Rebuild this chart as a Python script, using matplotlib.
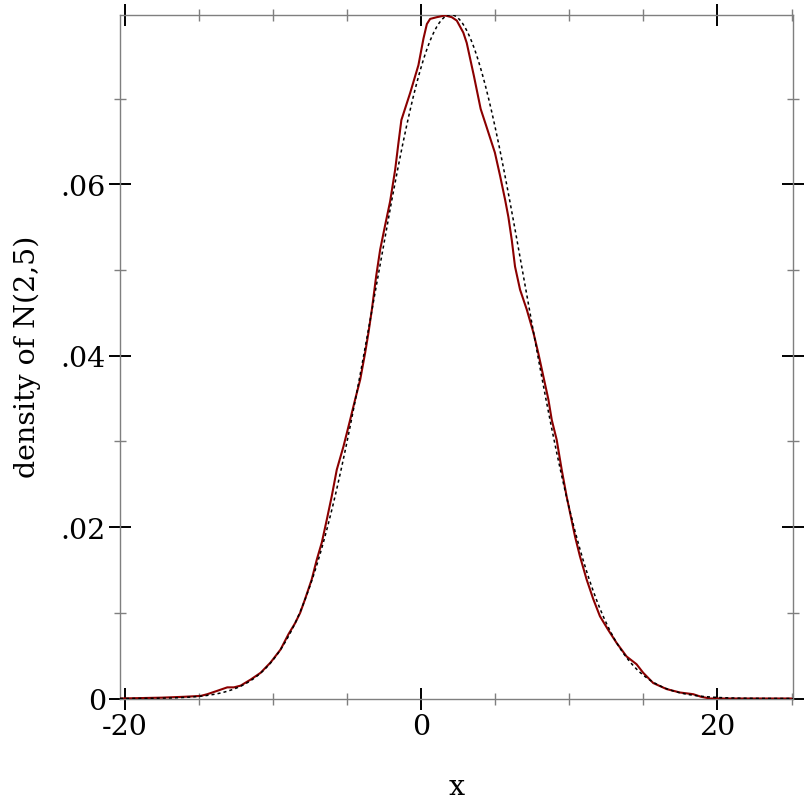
import numpy as np
import matplotlib
matplotlib.use("Agg")
import matplotlib.pyplot as plt
from matplotlib.ticker import FixedLocator, FixedFormatter

# ---- data ----
mu, sigma = 2.0, 5.0  # the reference density N(2,5)

kde_x = [-20.3, -17.5, -16.0, -14.88, -14.43, -13.75, -13.08, -12.63, -12.18,
         -11.51, -10.83, -10.16, -9.49, -8.95, -8.50, -8.16, -7.83, -7.38,
         -7.04, -6.70, -6.36, -6.03, -5.69, -5.24, -4.79, -4.45, -4.11, -3.78,
         -3.55, -3.32, -3.03, -2.76, -2.43, -2.09, -1.75, -1.53, -1.33, -0.73,
         -0.18, 0.16, 0.39, 0.61, 1.06, 1.62, 2.07, 2.41, 2.85, 3.08, 3.57,
         4.02, 4.38, 4.98, 5.33, 5.67, 5.89, 6.12, 6.34, 6.68, 7.13, 7.58,
         7.91, 8.25, 8.59, 8.82, 9.15, 9.49, 9.82, 10.05, 10.39, 10.72, 11.17,
         11.62, 12.07, 12.63, 13.19, 13.87, 14.54, 14.99, 15.67, 16.57, 17.47,
         18.37, 18.9, 19.5, 21.0, 25.0]
kde_y = [0.0000, 0.0001, 0.0002, 0.0003, 0.0005, 0.0009, 0.0013, 0.0013, 0.0015,
         0.0022, 0.0030, 0.0042, 0.0057, 0.0075, 0.0088, 0.0100, 0.0116, 0.0139,
         0.0162, 0.0182, 0.0209, 0.0236, 0.0267, 0.0294, 0.0325, 0.0349, 0.0372, 0.0403,
         0.0427, 0.0454, 0.0493, 0.0524, 0.0552, 0.0580, 0.0617, 0.0648, 0.0675, 0.0707,
         0.0739, 0.0770, 0.0787, 0.0793, 0.0795, 0.0797, 0.0795, 0.0791, 0.0777, 0.0765, 0.0726,
         0.0688, 0.0669, 0.0637, 0.0610, 0.0582, 0.0562, 0.0535, 0.0504, 0.0477, 0.0454, 0.0427,
         0.0403, 0.0376, 0.0349, 0.0325, 0.0302, 0.0267, 0.0236, 0.0217, 0.0189, 0.0166, 0.0139,
         0.0116, 0.0096, 0.0080, 0.0065, 0.0049, 0.0040, 0.0030, 0.0018, 0.0011, 0.0007,
         0.0005, 0.0002, 0.0000, 0.0000, 0.0000]

x_major = [-20, 0, 20]
x_major_labels = ["-20", "0", "20"]
x_minor = [-15, -10, -5, 5, 10, 15, 25]
y_major = [0, 0.02, 0.04, 0.06]
y_major_labels = ["0", ".02", ".04", ".06"]
y_minor = [0.01, 0.03, 0.05, 0.07]

xlim = (-20.32, 25.1)
ylim = (0.0, 0.07979)

# ---- figure ----
plt.rcParams['font.family'] = ['DejaVu Serif']
FS = 20.5
fig = plt.figure(figsize=(8.12, 8.12), dpi=100)
W = H = 812.0
left, right, top, bottom = 120, 793, 15.7, 699.5
ax = fig.add_axes([left / W, 1 - bottom / H, (right - left) / W, (bottom - top) / H])

xs = np.linspace(xlim[0], xlim[1], 600)
pdf = np.exp(-0.5 * ((xs - mu) / sigma) ** 2) / (sigma * np.sqrt(2 * np.pi))

ax.plot(kde_x, kde_y, color='#8b0000', lw=1.5, zorder=3,
        solid_joinstyle='round', solid_capstyle='round')
ax.plot(xs, pdf, color='black', lw=1.1, linestyle=(0, (2, 2)), zorder=4)

ax.set_xlim(*xlim)
ax.set_ylim(*ylim)

for s in ax.spines.values():
    s.set_color('#7f7f7f')
    s.set_linewidth(1.0)

ax.xaxis.set_major_locator(FixedLocator(x_major))
ax.xaxis.set_major_formatter(FixedFormatter(x_major_labels))
ax.xaxis.set_minor_locator(FixedLocator(x_minor))
ax.yaxis.set_major_locator(FixedLocator(y_major))
ax.yaxis.set_major_formatter(FixedFormatter(y_major_labels))
ax.yaxis.set_minor_locator(FixedLocator(y_minor))

ax.tick_params(which='major', direction='inout', length=15.5, width=1.4, color='black',
               labelsize=FS, pad=2.5, top=True, right=True, labeltop=False, labelright=False)
ax.tick_params(which='minor', direction='inout', length=8, width=1.0, color='#7f7f7f',
               top=True, right=True)

fig.text(457 / W, 1 - 795 / H, "x", ha='center', va='baseline', fontsize=FS)
fig.text(27.5 / W, 1 - 357 / H, "density of N(2,5)", ha='center', va='center',
         rotation=90, fontsize=FS)

fig.savefig("out.png", dpi=100)
